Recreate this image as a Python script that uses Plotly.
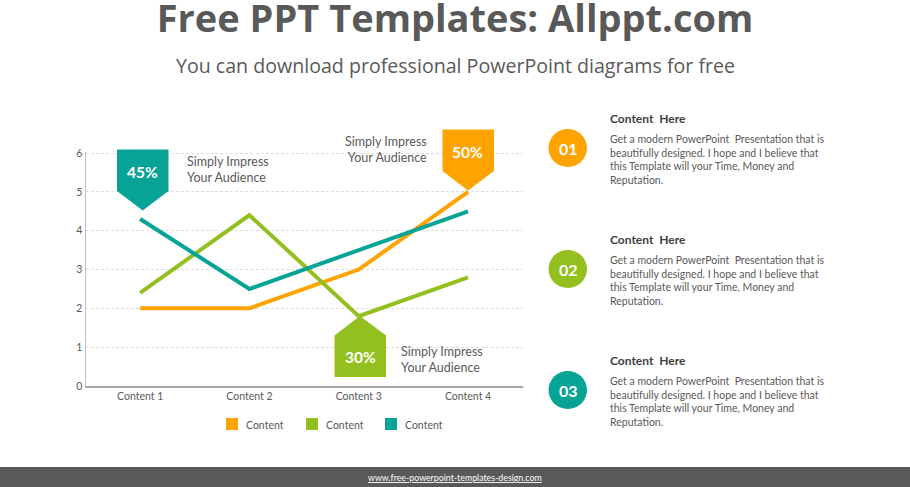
import plotly.graph_objects as go

W, H = 910, 487
categories = ["Content 1", "Content 2", "Content 3", "Content 4"]
orange_values = [2, 2, 3, 5]
green_values = [2.4, 4.4, 1.8, 2.8]
teal_values = [4.3, 2.5, 3.5, 4.5]
series_names = ["Content", "Content", "Content"]
ORANGE, GREEN, TEAL = "#FFA300", "#93C01F", "#07A396"
TEXT = "#595959"
DARK = "#404040"
BODY = "Get a modern PowerPoint  Presentation that is<br>beautifully designed. I hope and I believe that<br>this Template will your Time, Money and<br>Reputation."

L, R, T, B = 85.5, 522.7, 151.5, 386
Y_TOP = 6.04


def px(x):
    return x / W


def py(y):
    return 1 - y / H


fig = go.Figure()
for vals, col, name in zip([orange_values, green_values, teal_values], [ORANGE, GREEN, TEAL], series_names):
    fig.add_trace(go.Scatter(x=categories, y=vals, mode="lines", showlegend=False, name=name,
                             line=dict(color=col, width=4, shape="linear"), hoverinfo="skip"))

shapes = []
annos = []


def text(x, y, s, size=12, color=TEXT, xanchor="left", family="Lato", align="left"):
    annos.append(dict(xref="paper", yref="paper", x=px(x), y=py(y), text=s, showarrow=False,
                      xanchor=xanchor, yanchor="middle", align=align, borderpad=0, borderwidth=0,
                      font=dict(size=size, color=color, family=family)))


def poly(points, color):
    d = "M" + " L".join(f"{px(a):.5f},{py(b):.5f}" for a, b in points) + " Z"
    shapes.append(dict(type="path", path=d, xref="paper", yref="paper", fillcolor=color,
                       line=dict(width=0), layer="above"))


# footer
shapes.append(dict(type="rect", xref="paper", yref="paper", x0=0, x1=1, y0=0, y1=py(467),
                   fillcolor="#595959", line=dict(width=0), layer="below"))

# callouts
poly([(117, 149.5), (168.5, 149.5), (168.5, 191), (142.7, 210.5), (117, 191)], TEAL)
poly([(442.5, 129.5), (494, 129.5), (494, 171), (468, 190.5), (442.5, 171)], ORANGE)
poly([(334.5, 377), (386, 377), (386, 335.5), (360, 316), (334.5, 335.5)], GREEN)
text(142.7, 172, "<b>45%</b>", 15.5, "white", "center")
text(467.5, 152, "<b>50%</b>", 15.5, "white", "center")
text(360.5, 357, "<b>30%</b>", 15.5, "white", "center")

text(186.5, 170, "Simply Impress<br>Your Audience", 12.5)
text(426.5, 149, "Simply Impress<br>Your Audience", 12.5, xanchor="right", align="right")
text(400.5, 359, "Simply Impress<br>Your Audience", 12.5)

# right-hand list
for cy, col, num in [(148, ORANGE, "01"), (269, GREEN, "02"), (390, TEAL, "03")]:
    shapes.append(dict(type="circle", xref="paper", yref="paper", fillcolor=col, line=dict(width=0),
                       x0=px(548.5), x1=px(587), y0=py(cy + 19), y1=py(cy - 19)))
    text(568, cy, f"<b>{num}</b>", 16, "white", "center")
    text(610, cy - 29.5, "<b>Content  Here</b>", 12, DARK)
    text(610, cy + 11, BODY, 10.5, TEXT)

# legend key
for kx, col, name in zip([226, 306, 385], [ORANGE, GREEN, TEAL], series_names):
    shapes.append(dict(type="rect", xref="paper", yref="paper", fillcolor=col, line=dict(width=0),
                       x0=px(kx), x1=px(kx + 12), y0=py(430), y1=py(418)))
    text(kx + 20, 424.5, name, 10.5, TEXT)

text(W / 2, 65.5, "You can download professional PowerPoint diagrams for free", 19.6, TEXT, "center", "Open Sans")
text(W / 2, 477.5, "<u>www.free-powerpoint-templates-design.com</u>", 8.8, "white", "center")

fig.update_layout(
    width=W, height=H, autosize=False,
    margin=dict(l=0, r=0, t=0, b=0, pad=0, autoexpand=False),
    paper_bgcolor="white", plot_bgcolor="white",
    title=dict(text="<b>Free PPT Templates: Allppt.com</b>", x=0.5, xanchor="center", xref="paper",
               y=py(18.5), yanchor="middle", yref="container", automargin=False,
               font=dict(size=38, color=TEXT, family="Open Sans")),
    shapes=shapes, annotations=annos,
    showlegend=False,
    font=dict(family="Lato", color=TEXT, size=10.5),
    xaxis=dict(domain=[px(L), px(R)], range=[-0.5, 3.5], type="category", showgrid=False,
               showline=True, linecolor="#A6A6A6", linewidth=1.5, ticks="", ticklen=0,
               tickfont=dict(size=10.5, color=TEXT), zeroline=False),
    yaxis=dict(domain=[py(B), py(T)], range=[0, Y_TOP], dtick=1, showgrid=True,
               gridcolor="#DEDEDE", griddash="3px,2px", gridwidth=1, showline=True,
               linecolor="#BFBFBF", linewidth=1, zeroline=False,
               tickfont=dict(size=10.5, color=TEXT), ticks="", ticklen=0),
)
fig.write_html("out.html", config=dict(displayModeBar=False),
               post_script="document.body.style.margin='0';document.documentElement.style.overflow='hidden';")
